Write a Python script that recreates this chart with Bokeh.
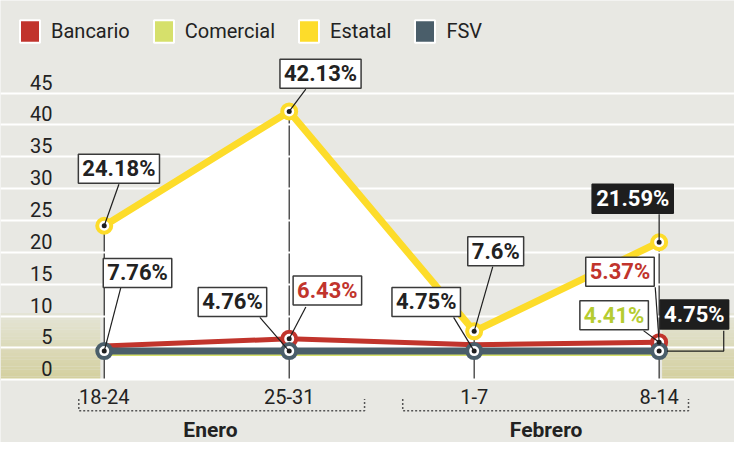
from bokeh.plotting import figure
from bokeh.models import ColumnDataSource, Legend, LegendItem, Range1d
from bokeh.embed import file_html
from bokeh.resources import INLINE
from bokeh.core.properties import value

# ---------------- data ----------------
categories = ["18-24", "25-31", "1-7", "8-14"]
months = ["Enero", "Febrero"]
month_members = [[0, 1], [2, 3]]

bancario = [5.3, 6.43, 5.5, 5.9]
comercial = [4.2, 4.2, 4.2, 4.2]
estatal = [24.18, 42.13, 7.6, 21.59]
fsv = [4.5, 4.5, 4.5, 4.5]

y_ticks = [0, 5, 10, 15, 20, 25, 30, 35, 40, 45]

label_texts = ["24.18%", "42.13%", "7.76%", "4.76%", "6.43%", "4.75%",
               "7.6%", "21.59%", "5.37%", "4.41%", "4.75%"]
label_series = ["Estatal", "Estatal", "FSV", "FSV", "Bancario", "FSV",
                "Estatal", "Estatal", "Bancario", "Bancario", "FSV"]
label_cat = [0, 1, 0, 1, 1, 2, 2, 3, 3, 3, 3]

# ---------------- style ----------------
W, H = 734, 442
RW, RH = 750.0, 458.0                 # reference canvas
PX_X, X0 = 189.0, 106.0               # reference px per category / of first category
PX_Y, Y0 = 6.6, 393.0                 # reference px per unit / of zero (from top)

BG = "#E8E8E3"
C_BAN, C_COM, C_EST, C_FSV = "#C1342C", "#D6E06B", "#FDDC2A", "#4A5E6A"
INK = "#222222"
FONT = value("Roboto")

series = {"Bancario": bancario, "Comercial": comercial, "Estatal": estatal, "FSV": fsv}

def dx(px):          # reference px -> data units
    return px / PX_X

def dy(px):          # reference px downward -> data units
    return -px / PX_Y

# label box placement (ref px offsets from anchor point), leader start offsets
box_off = [(15, -59), (32, -39), (34, -81), (-58, -51), (39, -50), (-49, -51),
           (22, -83), (-27, -45), (-40, -73), (-46, -28), (36, -38)]
lead_off = [(15, -43), (17, -23), (17, -66), (-30, -35), (17, -33), (-21, -35),
            (19, -67), (0, -29), (-4, -57), (-16, -12), None]
txt_col = [INK, INK, INK, INK, C_BAN, INK, INK, "white", C_BAN, "#B5CC30", "white"]
box_fill = ["white"] * 7 + ["#1E1E1E", "white", "white", "#1E1E1E"]
box_line = ["#3A3A3A"] * 7 + ["#1E1E1E", "#3A3A3A", "#3A3A3A", "#1E1E1E"]

p = figure(width=W, height=H, output_backend="svg", toolbar_location=None,
           x_axis_type=None, y_axis_type=None, min_border=0,
           x_range=Range1d(-X0 / PX_X, (RW - X0) / PX_X),
           y_range=Range1d(-(RH - Y0) / PX_Y, Y0 / PX_Y))
p.title.visible = False
p.background_fill_color = BG
p.border_fill_color = BG
p.outline_line_color = None
p.xgrid.visible = False
p.ygrid.visible = False

xs = list(range(len(categories)))
xmin, xmax = p.x_range.start, p.x_range.end

# olive gradient bands at the bottom left / right
n = 20
top_v = 10.5
c0 = (229, 229, 216)
c1 = (212, 208, 158)
for k in range(n):
    t = (k + 0.5) / n
    col = "#%02x%02x%02x" % tuple(int(c0[i] + (c1[i] - c0[i]) * t) for i in range(3))
    b = top_v * (1 - (k + 1) / n)
    tt = top_v * (1 - k / n)
    p.quad(left=[xmin, xs[-1] + dx(3)], right=[xs[0] - dx(4), xmax],
           bottom=[b, b], top=[tt, tt], fill_color=col, line_color=None)

# white area under Estatal
p.varea(x=xs, y1=[0] * len(xs), y2=estatal, fill_color="white")

# vertical category lines
p.segment(x0=xs, y0=[0] * len(xs), x1=xs, y1=estatal, line_color="#2A2A2A", line_width=1.2)

# gridlines
p.hspan(y=y_ticks, line_color="white", line_width=2)

# series lines
p.line(xs, comercial, line_color=C_COM, line_width=6)
p.line(xs, bancario, line_color=C_BAN, line_width=5)
p.line(xs, fsv, line_color=C_FSV, line_width=7)
p.line(xs, estatal, line_color=C_EST, line_width=7)

# markers (rings)
ring_pts = [("Estatal", [0, 1, 2, 3]), ("Bancario", [1, 3]), ("FSV", [0, 1, 2, 3])]
ring_col = {"Estatal": C_EST, "Bancario": C_BAN, "FSV": C_FSV}
dot_x, dot_y = [], []
for name, idxs in ring_pts:
    vals = series[name]
    px_ = [xs[i] for i in idxs]
    py_ = [vals[i] for i in idxs]
    p.scatter(px_, py_, size=14, fill_color="white", line_color=ring_col[name], line_width=4)
    dot_x += px_
    dot_y += py_

# leader lines
ax = [label_cat[i] for i in range(len(label_texts))]
ay = [series[label_series[i]][label_cat[i]] for i in range(len(label_texts))]
sx0, sy0, sx1, sy1 = [], [], [], []
for i, lo in enumerate(lead_off):
    if lo is None:
        continue
    sx0.append(ax[i] + dx(lo[0]))
    sy0.append(ay[i] + dy(lo[1]))
    sx1.append(ax[i])
    sy1.append(ay[i])
p.segment(sx0, sy0, sx1, sy1, line_color="#1E1E1E", line_width=1.2)
# elbow leader for the last FSV label
li = len(label_texts) - 1
p.line([ax[li] + dx(66), ax[li] + dx(66), ax[li] + dx(8)],
       [ay[li] + dy(-21), ay[li], ay[li]], line_color="#1E1E1E", line_width=1.2)

# centre dots
p.scatter(dot_x, dot_y, size=5, fill_color="#1E1E1E", line_color=None)

# data labels with boxes
lab_src = ColumnDataSource(dict(
    x=[ax[i] + dx(box_off[i][0]) for i in range(len(label_texts))],
    y=[ay[i] + dy(box_off[i][1]) for i in range(len(label_texts))],
    text=label_texts, color=txt_col, fill=box_fill, border=box_line))
p.text(x="x", y="y", text="text", source=lab_src, text_color="color",
       text_align="center", text_baseline="middle", text_font=FONT,
       text_font_style="bold", text_font_size="22px",
       background_fill_color="fill", border_line_color="border",
       border_line_width=1.5, padding=(4, 2))

# y tick labels
p.text(x=[xs[0] + dx(-53)] * len(y_ticks), y=y_ticks, text=[str(v) for v in y_ticks],
       text_align="right", text_baseline="middle", y_offset=-11,
       text_font=FONT, text_font_size="20px", text_color=INK)

# category labels
p.text(x=xs, y=[0] * len(xs), text=categories, text_align="center",
       text_baseline="middle", y_offset=17, text_font=FONT,
       text_font_size="20px", text_color=INK)

# month brackets and labels
br_pad = [(-26, 77), (-73, 30)]
lab_shift = [14, -21]
for g, members in enumerate(month_members):
    a = members[0] + dx(br_pad[g][0])
    b = members[-1] + dx(br_pad[g][1])
    p.line([a, a, b, b], [dy(20), dy(32), dy(32), dy(20)], line_color="#555555",
           line_width=1.5, line_dash="2 2")
    mid = sum(members) / len(members)
    p.text(x=[mid + dx(lab_shift[g])], y=[dy(52)], text=[months[g]], text_align="center",
           text_baseline="middle", text_font=FONT, text_font_style="bold",
           text_font_size="21px", text_color=INK)

# legend (swatch renderers sit outside the visible ranges)
items = []
for name, col in [("Bancario", C_BAN), ("Comercial", C_COM), ("Estatal", C_EST), ("FSV", C_FSV)]:
    r = p.quad(left=[-20], right=[-19], top=[-40], bottom=[-41], fill_color=col,
               line_color="white", line_width=2)
    items.append(LegendItem(label=name, renderers=[r]))
legend = Legend(items=items, orientation="horizontal", location="top_left",
                margin=17, padding=3, spacing=21, label_standoff=9,
                glyph_width=25, glyph_height=28, background_fill_alpha=0,
                border_line_color=None, label_text_font="Roboto",
                label_text_font_size="20px", label_text_color=INK)
p.add_layout(legend)

open("out.html", "w").write(file_html(p, INLINE))
